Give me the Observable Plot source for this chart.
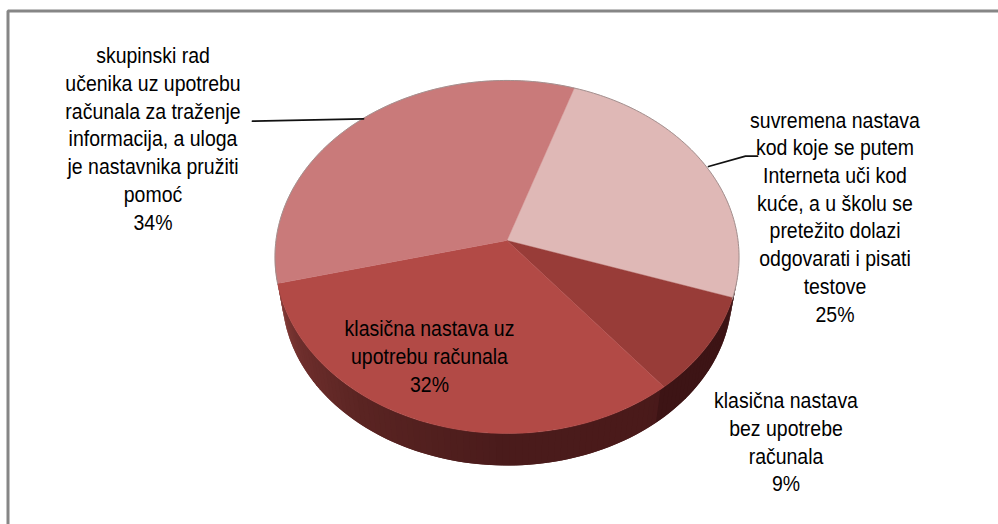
<!DOCTYPE html>
<html><head><meta charset="utf-8">
<style>html,body{margin:0;padding:0;background:#fff}svg{display:block}</style>
<script src="https://cdn.jsdelivr.net/npm/d3@7"></script>
<script src="https://cdn.jsdelivr.net/npm/@observablehq/plot@0.6"></script>
</head><body><script>
const categories = [
  "suvremena nastava\nkod koje se putem\nInterneta uči kod\nkuće, a u školu se\npretežito dolazi\nodgovarati i pisati\ntestove",
  "klasična nastava\nbez upotrebe\nračunala",
  "klasična nastava uz\nupotrebu računala",
  "skupinski rad\nučenika uz upotrebu\nračunala za traženje\ninformacija, a uloga\nje nastavnika pružiti\npomoć"
];
const values = [25, 9, 32, 34];
const sliceColors = ["#dfb8b6", "#983c38", "#b24a46", "#c97a7a"];
const labelX = [834.5, 785.5, 429, 152.5];
const labelY = [321, 490.7, 391, 229];

// perspective disc -> screen
const cx = 506.5, cyTop = 240, A = 175, C = 231, k = 0.0935, start = 18.5;
const rim = (deg, s = 1, y0 = cyTop) => {
  const t = deg * Math.PI / 180, u = Math.sin(t), v = Math.cos(t), w = 1 + k * v;
  return {x: cx + s * C * u / w, y: y0 - s * A * v / w};
};
const lowerRim = deg => rim(deg, 0.97, 277.8);

const total = d3.sum(values);
let acc = start;
const slices = values.map((v, i) => {
  const a0 = acc; acc += v / total * 360;
  return {i, a0, a1: acc};
});

const topRows = slices.flatMap(s => {
  const pts = [{...rim(0, 0)}];
  const n = Math.ceil(s.a1 - s.a0);
  for (let j = 0; j <= n; j++) pts.push(rim(s.a0 + (s.a1 - s.a0) * j / n));
  pts.push({...rim(0, 0)});
  return pts.map(p => ({...p, id: s.i, c: sliceColors[s.i]}));
});

const wallFront = d3.scaleLinear()
  .domain([262, 240, 215, 180, 145, 100])
  .range(["#8e433e", "#6f2f2d", "#5a2422", "#4a1b1b", "#4a1a1a", "#3a1213"]);
const wallRows = [];
for (let a = 100, id = 0; a < 264; a += 1.5, id++) {
  const c = a < slices[1].a1 ? "#3d1415" : wallFront(a);
  const b = a + 3;
  const p = [rim(a), rim(b), lowerRim(b), lowerRim(a), rim(a)];
  p.forEach(q => wallRows.push({...q, id, c}));
}

const upperRim = d3.range(256, 470).map(a => rim(a));

const leaders = [
  {id: 0, x: 252, y: 120.7}, {id: 0, x: 363, y: 118.3},
  {id: 1, x: 708, y: 166}, {id: 1, x: 745, y: 155.7}, {id: 1, x: 757, y: 155.7}
];
const frame = [{x: 998, y: 10.5}, {x: 7.5, y: 10.5}, {x: 7.5, y: 524}];

const labels = categories.map((t, i) => ({t: t + "\n" + values[i] + "%", x: labelX[i], y: labelY[i]}));

const plot = Plot.plot({
  width: 998, height: 524, margin: 0,
  x: {domain: [0, 998], range: [0, 998], axis: null},
  y: {domain: [0, 524], range: [0, 524], axis: null},
  style: {background: "#fff"},
  marks: [
    Plot.line(frame, {x: "x", y: "y", stroke: "#868686", strokeWidth: 3, strokeLinejoin: "miter"}),
    Plot.line(wallRows, {x: "x", y: "y", z: "id", fill: "c", stroke: "none"}),
    Plot.line(topRows, {x: "x", y: "y", z: "id", fill: "c", stroke: "c", strokeWidth: 0.4}),
    Plot.line(upperRim, {x: "x", y: "y", stroke: "#a3908f", strokeWidth: 1}),
    Plot.line(leaders, {x: "x", y: "y", z: "id", stroke: "#111", strokeWidth: 1.8}),
    Plot.text(labels, {x: "x", y: "y", text: "t", textAnchor: "middle", lineAnchor: "bottom",
      lineHeight: 1.259, fontSize: 22, fontFamily: "Liberation Sans", fill: "#000"})
  ]
});
// the reference's lettering is horizontally condensed
d3.select(plot).selectAll('g[aria-label="text"] text').attr("transform", function () {
  return (this.getAttribute("transform") || "") + " scale(0.885,1)";
});
document.body.appendChild(plot);
</script></body></html>
